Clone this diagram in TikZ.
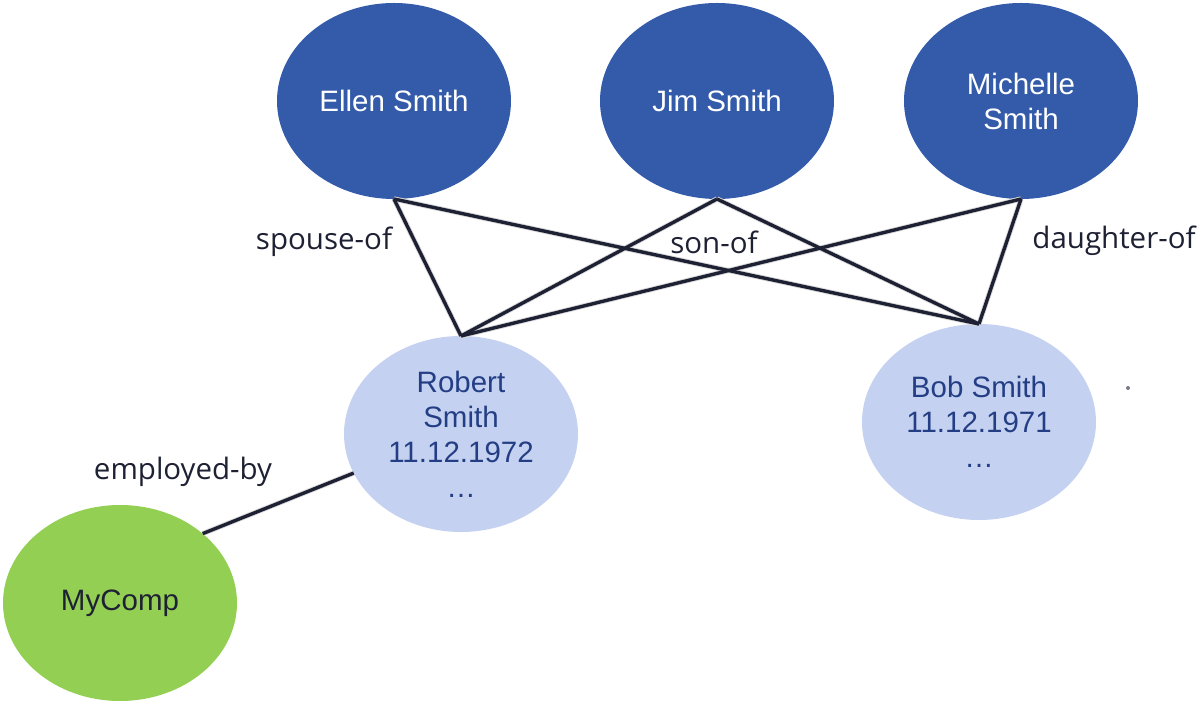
\documentclass[tikz,border=0pt]{standalone}
\usepackage{fontspec}
\setmainfont{Liberation Sans}
\newfontfamily\labelfont{Open Sans}
\usetikzlibrary{shapes.geometric}
\definecolor{parentblue}{HTML}{335BA9}
\definecolor{childblue}{HTML}{C4D1F0}
\definecolor{compgreen}{HTML}{93CF53}
\definecolor{edgeink}{HTML}{1E2133}
\definecolor{childink}{HTML}{233E84}
\tikzset{
person/.style = {ellipse, fill=#1, minimum width=117pt, minimum height=98pt,
                 inner sep=0pt, outer sep=0pt, align=center,
                 font=\fontsize{14.75}{17.5}\selectfont},
person/.default = parentblue, % fill of the ellipse
rel/.style = {draw=edgeink, line width=1.7pt},
relshadow/.style = {draw=black!15, line width=2.6pt},
rellabel/.style = {font=\labelfont\fontsize{14.75}{17.5}\selectfont, text=edgeink}
}

\begin{document}
\begin{tikzpicture}[x=0.5pt, y=-0.5pt]
	\useasboundingbox (0,0) rectangle (1200,705);
	\def \sh{3} % shadow offset

	% Parents
	\node[person, text=white] (ellen) at (394,101) {Ellen Smith};
	\node[person, text=white] (jim) at (717,101) {Jim Smith};
	\node[person, text=white] (michelle) at (1021,101) {Michelle\\Smith};

	% Children
	\node[person=childblue, text=childink] (robert) at (461,434) {Robert\\Smith\\11.12.1972\\…};
	\node[person=childblue, text=childink] (bob) at (979,422) {Bob Smith\\11.12.1971\\…};

	% Company
	\node[person=compgreen, text=edgeink] (mycomp) at (120,603) {MyComp};

	% Shadows
	\draw[relshadow, yshift=-\sh*0.5pt] (ellen.south) -- (robert.north);
	\draw[relshadow, yshift=-\sh*0.5pt] (ellen.south) -- (bob.north);
	\draw[relshadow, yshift=-\sh*0.5pt] (jim.south) -- (robert.north);
	\draw[relshadow, yshift=-\sh*0.5pt] (jim.south) -- (bob.north);
	\draw[relshadow, yshift=-\sh*0.5pt] (michelle.south) -- (robert.north);
	\draw[relshadow, yshift=-\sh*0.5pt] (michelle.south) -- (bob.north);
	\draw[relshadow, yshift=-\sh*0.5pt] (robert.200) -- (mycomp.40);

	% Relations
	\draw[rel] (ellen.south) -- (robert.north);
	\draw[rel] (ellen.south) -- (bob.north);
	\draw[rel] (jim.south) -- (robert.north);
	\draw[rel] (jim.south) -- (bob.north);
	\draw[rel] (michelle.south) -- (robert.north);
	\draw[rel] (michelle.south) -- (bob.north);
	\draw[rel] (robert.200) -- (mycomp.40);

	% Labels
	\node[rellabel] (spouse) at (324,242) {spouse-of};
	\node[rellabel] (son) at (714,242) {son-of};
	\node[rellabel] (daughter) at (1114,241) {daughter-of};
	\node[rellabel] (employed) at (183,472) {employed-by};

	% Speck
	\fill[edgeink!60] (1128,388) circle (1pt);

\end{tikzpicture}
\end{document}
